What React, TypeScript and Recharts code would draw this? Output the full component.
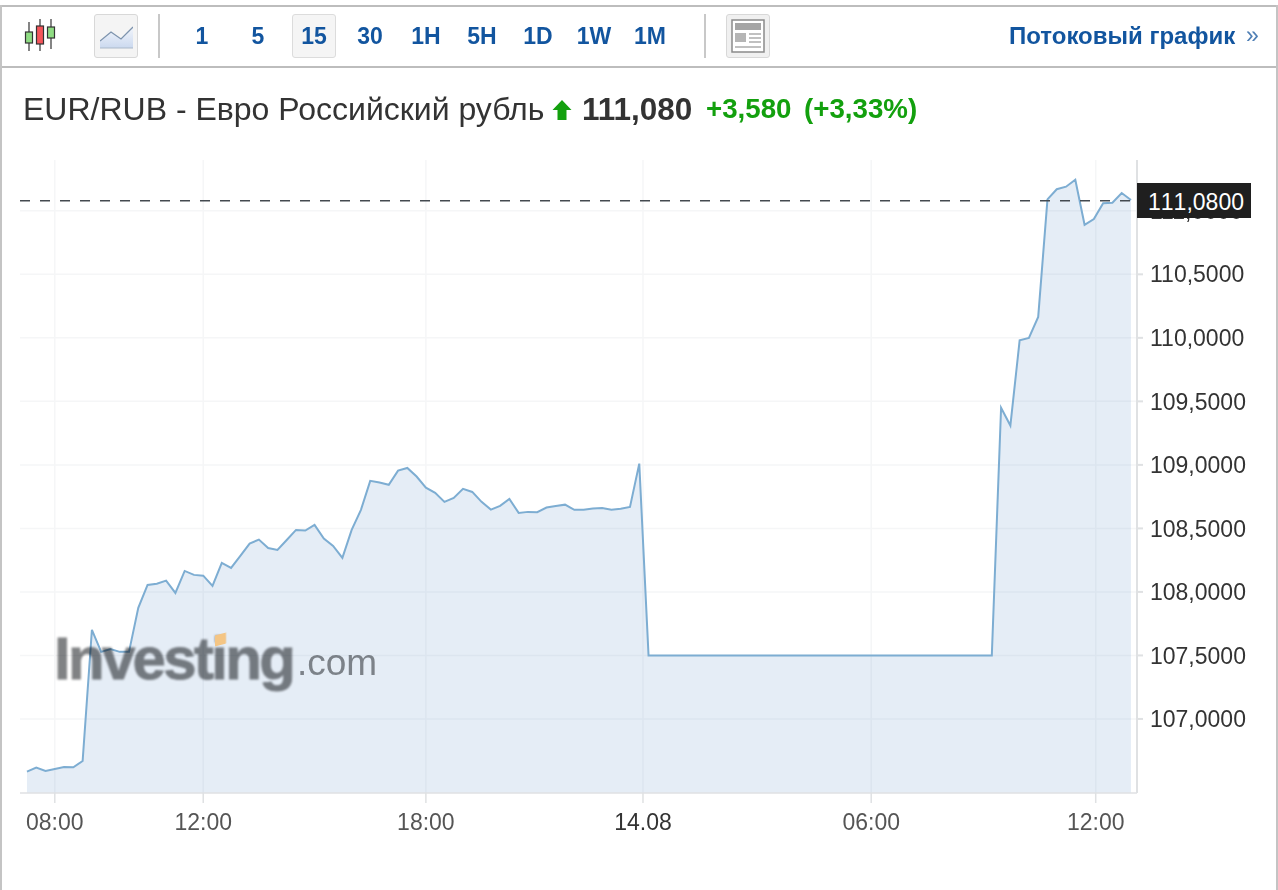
import React from "react";
import { ComposedChart, Area, XAxis, YAxis, CartesianGrid, ReferenceLine } from "recharts";

const FONT = '"Liberation Sans", Arial, sans-serif';

const prices: number[] = [
  106.585, 106.617, 106.591, 106.606, 106.622, 106.62, 106.669, 107.701, 107.528, 107.551,
  107.528, 107.528, 107.874, 108.055, 108.065, 108.089, 107.992, 108.165, 108.134, 108.128,
  108.047, 108.228, 108.189, 108.283, 108.38, 108.412, 108.346, 108.331, 108.409, 108.488,
  108.483, 108.528, 108.42, 108.362, 108.268, 108.488, 108.646, 108.874, 108.861, 108.843,
  108.955, 108.976, 108.908, 108.821, 108.78, 108.709, 108.74, 108.811, 108.787, 108.709,
  108.648, 108.677, 108.732, 108.622, 108.63, 108.628, 108.664, 108.677, 108.687, 108.646,
  108.646, 108.656, 108.661, 108.646, 108.654, 108.669, 109.01, 107.5, 107.5, 107.5,
  107.5, 107.5, 107.5, 107.5, 107.5, 107.5, 107.5, 107.5, 107.5, 107.5,
  107.5, 107.5, 107.5, 107.5, 107.5, 107.5, 107.5, 107.5, 107.5, 107.5,
  107.5, 107.5, 107.5, 107.5, 107.5, 107.5, 107.5, 107.5, 107.5, 107.5,
  107.5, 107.5, 107.5, 107.5, 107.5, 109.45, 109.31, 109.98, 110.0, 110.165,
  111.09, 111.17, 111.19, 111.245, 110.89, 110.935, 111.06, 111.063, 111.14, 111.085,
];

const tableData = prices.map((price, slot) => ({ slot, price }));

const xTickSlots = [3, 19, 43, 66.4, 91, 115.2];
const xTickLabels = ["08:00", "12:00", "18:00", "14.08", "06:00", "12:00"];
const yTicks = [107, 107.5, 108, 108.5, 109, 109.5, 110, 110.5, 111];

const lastPrice = 111.08;
const lastPriceLabel = "111,0800";
const intervals = ["1", "5", "15", "30", "1H", "5H", "1D", "1W", "1M"];

const SLOT_MIN = -0.75;
const SLOT_MAX = 119.65;
const VALUE_MIN = 106.417;
const VALUE_MAX = 111.4;

const BLUE = "#12559f";
const GREEN = "#13a00e";

const abs = (left: number, top: number, extra: React.CSSProperties = {}): React.CSSProperties => ({
  position: "absolute",
  left,
  top,
  whiteSpace: "nowrap",
  ...extra,
});

function TimeTick(props: any) {
  const label = xTickLabels[xTickSlots.indexOf(props.payload.value)];
  return (
    <text x={props.x} y={props.y + 9} dy="0.71em" textAnchor="middle" fontSize={23} fontFamily={FONT} fill={label === "14.08" ? "#333" : "#555"}>
      {label}
    </text>
  );
}

function CandlesIcon() {
  return (
    <svg style={abs(24, 19)} width={36} height={34} viewBox="0 0 36 34">
      <g stroke="#333" strokeWidth={1.2}>
        <line x1={5} y1={3} x2={5} y2={32} />
        <line x1={16} y1={0} x2={16} y2={32} />
        <line x1={27} y1={0} x2={27} y2={30} />
        <rect x={1.5} y={13} width={7} height={11} fill="#8fdc83" />
        <rect x={12.5} y={7} width={7} height={18} fill="#f4555a" />
        <rect x={23.5} y={8} width={7} height={11} fill="#8fdc83" />
      </g>
    </svg>
  );
}

function LineIcon() {
  return (
    <div style={abs(94, 14, { width: 42, height: 42, background: "#f4f4f4", border: "1px solid #d8d8d8", borderRadius: 3 })}>
      <svg style={abs(5, 8)} width={33} height={26} viewBox="0 0 33 26">
        <defs>
          <linearGradient id="iconFill" x1="0" y1="0" x2="0" y2="1">
            <stop offset="0" stopColor="#f2f5fb" />
            <stop offset="1" stopColor="#cbd9ef" />
          </linearGradient>
        </defs>
        <path d="M0 18 L11 9 L21 16 L33 4 L33 25 L0 25 Z" fill="url(#iconFill)" />
        <path d="M0 18 L11 9 L21 16 L33 4" fill="none" stroke="#7d93ad" strokeWidth={1.3} />
        <line x1={0} y1={25} x2={33} y2={25} stroke="#aab8c9" strokeWidth={1.2} />
      </svg>
    </div>
  );
}

function NewsIcon() {
  return (
    <div style={abs(726, 14, { width: 42, height: 42, background: "#f0f0f0", border: "1px solid #d8d8d8", borderRadius: 3 })}>
      <svg style={abs(4, 4)} width={34} height={34} viewBox="0 0 34 34">
        <rect x={1} y={1} width={32} height={32} fill="#fff" stroke="#8a8a8a" strokeWidth={1.5} />
        <rect x={4} y={4} width={26} height={7} fill="#a5a5a5" />
        <rect x={4} y={14} width={11} height={9} fill="#b5b5b5" />
        <g stroke="#b0b0b0" strokeWidth={1.6}>
          <line x1={18} y1={15} x2={30} y2={15} />
          <line x1={18} y1={19} x2={30} y2={19} />
          <line x1={18} y1={23} x2={30} y2={23} />
          <line x1={4} y1={28} x2={30} y2={28} />
        </g>
      </svg>
    </div>
  );
}

function Toolbar() {
  return (
    <>
      <div style={abs(0, 5, { width: 1278, height: 2, background: "#bdbdbd" })} />
      <div style={abs(0, 66, { width: 1278, height: 2, background: "#bdbdbd" })} />
      <div style={abs(0, 5, { width: 2, height: 885, background: "#c4c4c4" })} />
      <div style={abs(1276, 5, { width: 2, height: 885, background: "#c4c4c4" })} />
      <CandlesIcon />
      <LineIcon />
      <div style={abs(158, 14, { width: 2, height: 44, background: "#c8c8c8" })} />
      <div style={abs(292, 14, { width: 42, height: 42, background: "#f5f5f5", border: "1px solid #dcdcdc", borderRadius: 3 })} />
      {intervals.map((label, i) => (
        <div
          key={label}
          style={abs(174 + i * 56, 21, {
            width: 56,
            textAlign: "center",
            font: `bold 23px ${FONT}`,
            lineHeight: "30px",
            color: BLUE,
          })}
        >
          {label}
        </div>
      ))}
      <div style={abs(704, 14, { width: 2, height: 44, background: "#c8c8c8" })} />
      <NewsIcon />
      <div style={abs(1009, 21, { font: `bold 24px ${FONT}`, lineHeight: "30px", color: BLUE })}>Потоковый график</div>
      <div style={abs(1246, 20, { font: `23px ${FONT}`, lineHeight: "30px", color: "#4f7fb5" })}>»</div>
    </>
  );
}

function Title() {
  return (
    <>
      <div style={abs(23, 91, { font: `32px ${FONT}`, lineHeight: "36px", color: "#333" })}>
        EUR/RUB - Евро Российский рубль
      </div>
      <svg style={abs(552, 99)} width={20} height={22} viewBox="0 0 20 22">
        <path d="M10 1 L19.5 11 L14.5 11 L14.5 21 L5.5 21 L5.5 11 L0.5 11 Z" fill={GREEN} />
      </svg>
      <div style={abs(582, 91, { font: `bold 31.5px ${FONT}`, lineHeight: "36px", color: "#333" })}>111,080</div>
      <div style={abs(706, 91, { font: `bold 27.7px ${FONT}`, lineHeight: "36px", color: GREEN })}>+3,580</div>
      <div style={abs(804, 91, { font: `bold 27.7px ${FONT}`, lineHeight: "36px", color: GREEN })}>(+3,33%)</div>
    </>
  );
}

function Watermark() {
  return (
    <>
      <div style={{ position: "absolute", left: 0, top: 0, width: 1278, height: 890, pointerEvents: "none", mixBlendMode: "multiply" }}>
        <div
          style={abs(54, 625, {
            font: `bold 60px ${FONT}`,
            lineHeight: "68px",
            letterSpacing: -2.7,
            color: "#808284",
            WebkitTextStroke: "0.8px #808284",
            filter: "blur(0.9px)",
          })}
        >
          Investing
        </div>
        <div style={abs(297, 633, { font: `37px ${FONT}`, lineHeight: "60px", color: "#8a8c8e" })}>.com</div>
      </div>
      <div style={abs(215, 634, { width: 11, height: 11, background: "#f4c584", transform: "skewY(-15deg)", filter: "blur(0.5px)" })} />
    </>
  );
}

export default function App() {
  return (
    <div style={{ position: "absolute", left: 0, top: 0, width: 1278, height: 890, background: "#fff", overflow: "hidden", fontFamily: FONT }}>
      <ComposedChart
        width={1278}
        height={890}
        data={tableData}
        margin={{ top: 160, right: 0, bottom: 0, left: 20 }}
        style={{ position: "absolute", left: 0, top: 0 }}
      >
        <CartesianGrid stroke="#f5f6f7" strokeWidth={1.5} syncWithTicks />
        <XAxis
          dataKey="slot"
          type="number"
          domain={[SLOT_MIN, SLOT_MAX]}
          ticks={xTickSlots}
          height={97}
          interval={0}
          tickSize={10}
          stroke="#dfe1e3"
          strokeWidth={1.5}
          tick={TimeTick}
        />
        <YAxis
          orientation="right"
          type="number"
          domain={[VALUE_MIN, VALUE_MAX]}
          ticks={yTicks}
          tickFormatter={(v: number) => v.toFixed(4).replace(".", ",")}
          width={141}
          interval={0}
          tickSize={6}
          tickMargin={7}
          stroke="#dfe1e3"
          strokeWidth={2}
          tick={{ fill: "#333", fontSize: 23, fontFamily: FONT }}
        />
        <Area
          dataKey="price"
          type="linear"
          stroke="#7dadd2"
          strokeWidth={2}
          fill="#5c8cc8"
          fillOpacity={0.16}
          dot={false}
          activeDot={false}
          isAnimationActive={false}
        />
        <ReferenceLine
          segment={[
            { x: SLOT_MIN, y: lastPrice },
            { x: 119.2, y: lastPrice },
          ]}
          stroke="#444a50"
          strokeWidth={1.5}
          strokeDasharray="10 10"
        />
      </ComposedChart>
      <Toolbar />
      <Title />
      <Watermark />
      <div
        style={abs(1137, 183, {
          width: 114,
          height: 35,
          background: "#1f1f1f",
          color: "#fff",
          font: `23px ${FONT}`,
          fontKerning: "none",
          lineHeight: "38px",
          textAlign: "center",
          paddingLeft: 4,
          boxSizing: "border-box",
        })}
      >
        {lastPriceLabel}
      </div>
    </div>
  );
}
